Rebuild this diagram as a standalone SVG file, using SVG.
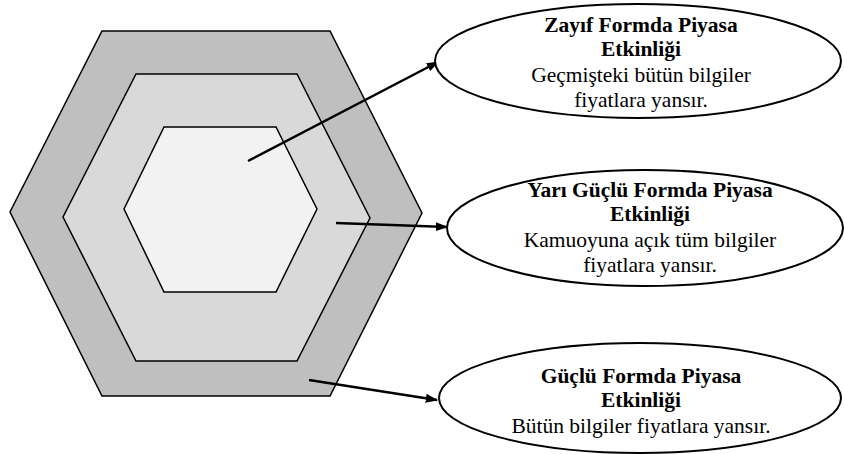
<svg xmlns="http://www.w3.org/2000/svg" width="844" height="454" viewBox="0 0 844 454">
<style>
.hex{stroke:#000;stroke-width:1.5;stroke-linejoin:miter}
.ell{fill:#fff;stroke:#000;stroke-width:2}
.conn{stroke:#000;stroke-width:2.5;fill:none}
.t{font-family:'Liberation Serif','Times New Roman',serif;font-size:21.5px;fill:#000;text-anchor:middle}
.b{font-weight:bold}
</style>
<defs>
<marker id="ah" viewBox="0 0 10 10" refX="9" refY="5" markerWidth="5" markerHeight="3.6" orient="auto" markerUnits="strokeWidth" preserveAspectRatio="none">
<path d="M0,0 L10,5 L0,10 z" fill="#000"/>
</marker>
</defs>
<g id="hexagons">
<polygon class="hex" fill="#bfbfbf" points="102,31 330,31 422,213 330,396 102,396 10,212"/>
<polygon class="hex" fill="#d9d9d9" points="136,74 297,74 370,218 297,361 136,361 63,217"/>
<polygon class="hex" fill="#f2f2f2" points="164,127 276,127 317,209 276,292 164,292 124,209"/>
</g>
<g id="connectors">
<line class="conn" x1="248" y1="161" x2="438" y2="62" marker-end="url(#ah)"/>
<line class="conn" x1="336" y1="223" x2="447" y2="227" marker-end="url(#ah)"/>
<line class="conn" x1="309" y1="380" x2="437" y2="400" marker-end="url(#ah)"/>
</g>
<g id="weak">
<ellipse class="ell" cx="638" cy="61" rx="203" ry="57"/>
<text x="641" y="32" class="t b">Zayıf Formda Piyasa</text>
<text x="641" y="56" class="t b">Etkinliği</text>
<text x="641" y="82" class="t">Geçmişteki bütün bilgiler</text>
<text x="641" y="107" class="t">fiyatlara yansır.</text>
</g>
<g id="semistrong">
<ellipse class="ell" cx="645" cy="228" rx="198" ry="58"/>
<text x="650" y="197" class="t b">Yarı Güçlü Formda Piyasa</text>
<text x="650" y="221" class="t b">Etkinliği</text>
<text x="650" y="247" class="t">Kamuoyuna açık tüm bilgiler</text>
<text x="650" y="272" class="t">fiyatlara yansır.</text>
</g>
<g id="strong">
<ellipse class="ell" cx="640" cy="398" rx="201" ry="55"/>
<text x="641" y="383" class="t b">Güçlü Formda Piyasa</text>
<text x="641" y="407" class="t b">Etkinliği</text>
<text x="641" y="433" class="t">Bütün bilgiler fiyatlara yansır.</text>
</g>
</svg>
